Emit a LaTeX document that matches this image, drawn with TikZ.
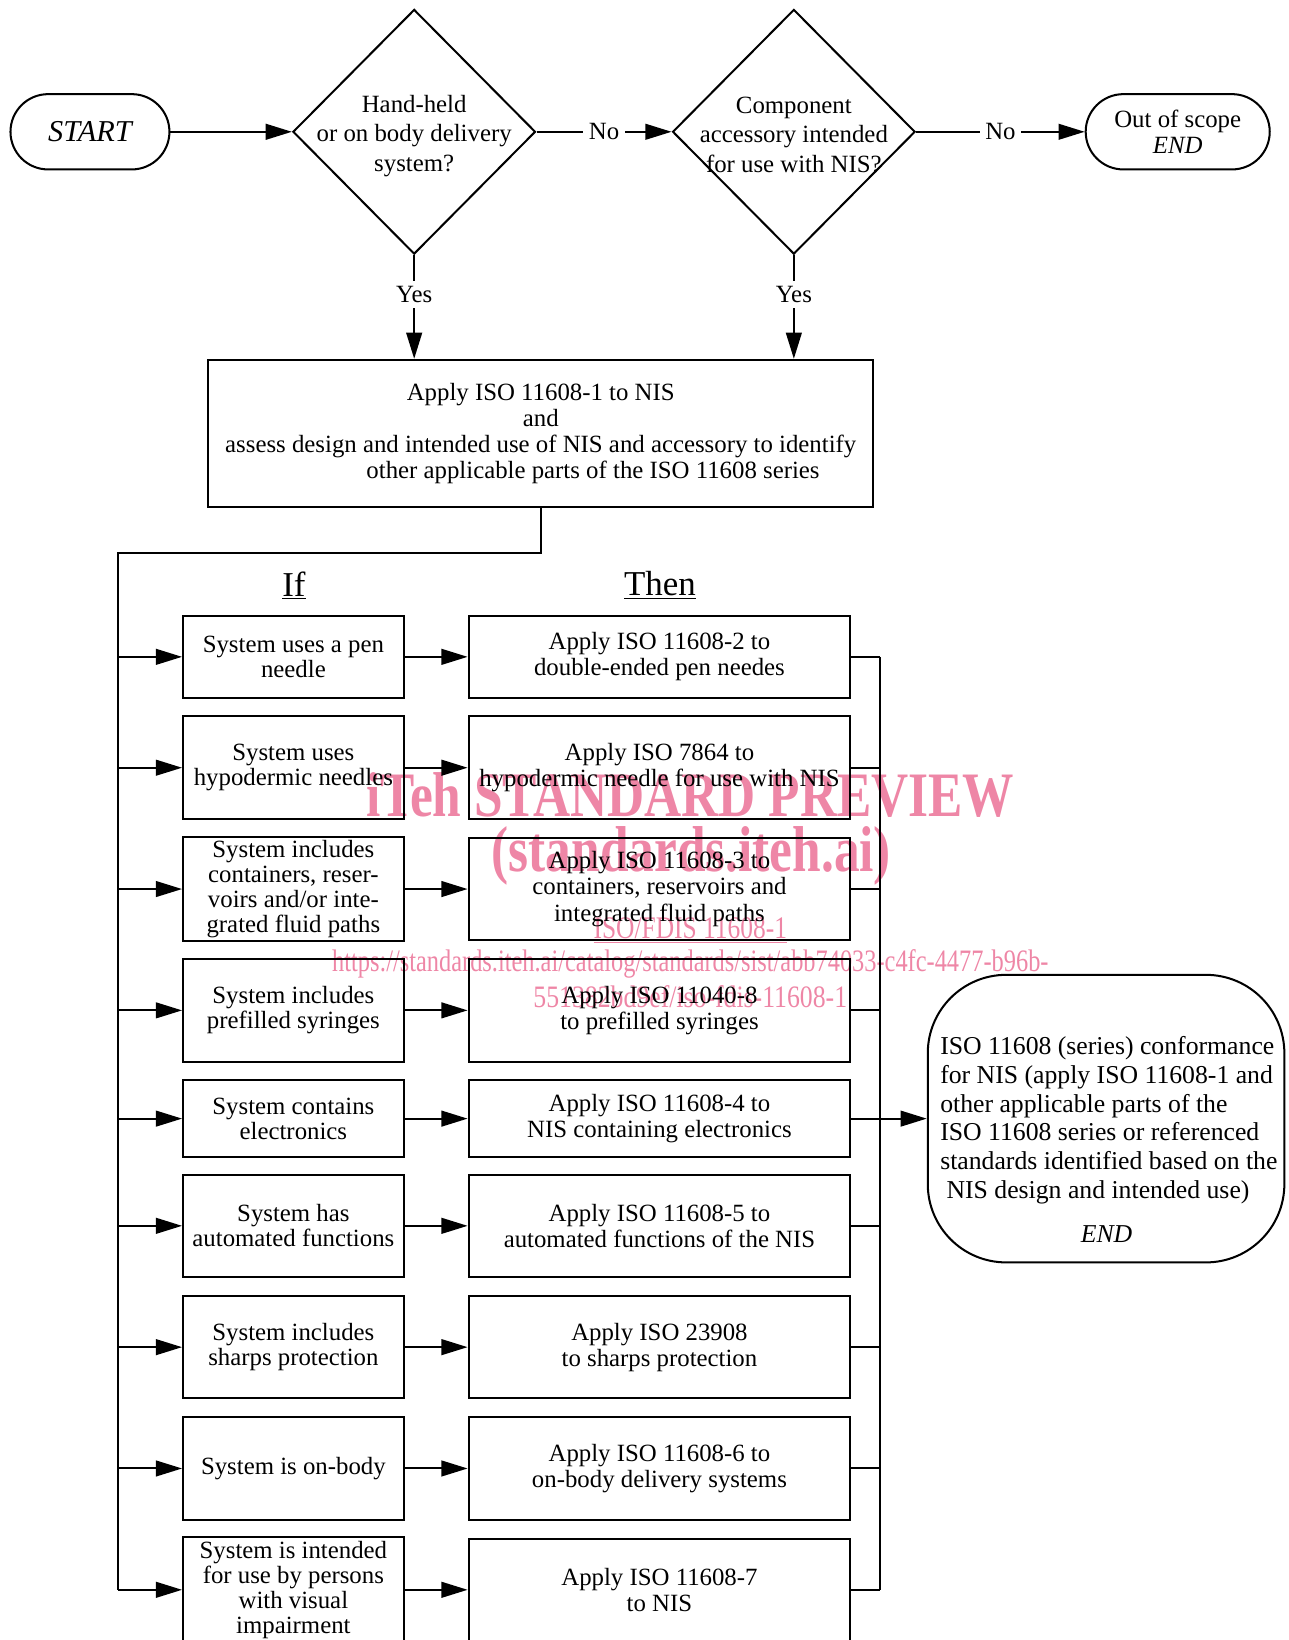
\documentclass[tikz,border=0pt]{standalone}
\usepackage{fontspec}
\setmainfont{Liberation Serif}
\usepackage{graphicx}
\usepackage{tikz}
\usetikzlibrary{shapes.geometric}
\usetikzlibrary{positioning}
\usetikzlibrary{arrows.meta,calc}

\definecolor{wmpink}{RGB}{238,134,166}

\begin{document}
\begin{tikzpicture}[x=0.02cm,y=-0.02cm,line width=1.1pt,
  txt/.style={font=\fontsize{13.5}{14.2}\selectfont,align=center},
  term/.style={txt,draw,rectangle,rounded corners=0.72cm,minimum height=1.44cm,inner sep=0pt},
  decision/.style={draw,diamond,aspect=1,minimum width=4.64cm,minimum height=4.68cm,inner sep=0pt},
  box/.style={txt,draw,rectangle,inner sep=2pt},
  ifbox/.style={box,minimum width=4.22cm,font=\fontsize{13.5}{13.6}\selectfont},
  thenbox/.style={box,minimum width=7.3cm},
  lbl/.style={txt,fill=white,inner sep=3pt},
  arr/.style={-{Triangle[length=0.5cm,width=0.3cm]}},
  wm/.style={text=wmpink,inner sep=0pt}]
\path[use as bounding box,clip] (0,0) rectangle (1232,1568);

% preview stamp
\node[wm] (wm1) at (660,760) {\resizebox{12.4cm}{0.84cm}{\bfseries iTeh STANDARD PREVIEW}};
\node[wm] (wm2) at (661,818) {\resizebox{7.64cm}{0.86cm}{\bfseries (standards.iteh.ai)}};
\node[wm] (wm3) at (660,890) {\resizebox{3.7cm}{0.4cm}{\underline{ISO/FDIS 11608-1}}};
\node[wm] (wm4) at (660,922) {\resizebox{13.7cm}{0.42cm}{https://standards.iteh.ai/catalog/standards/sist/abb74033-c4fc-4477-b96b-}};
\node[wm] (wm5) at (660,953) {\resizebox{6cm}{0.42cm}{551382bd9ef/iso-fdis-11608-1}};

\node[term,minimum width=3.04cm,font=\fontsize{16.5}{18}\selectfont\itshape] (start) at (86,126) {START};
\node[decision] (hand) at (396,126) {};
\node[txt,font=\fontsize{13.5}{15.9}\selectfont,yshift=-0.08cm] (handtxt) at (hand) {Hand-held\\or on body delivery\\system?};
\node[decision] (comp) at (759,126) {};
\node[txt,font=\fontsize{13.5}{15.9}\selectfont,yshift=-0.06cm] (comptxt) at (comp) {Component\\accessory intended\\for use with NIS?};
\node[term,minimum width=3.52cm] (out) at (1126,126) {Out of scope\\\textit{END}};

\node[box,minimum width=12.72cm,minimum height=2.82cm] (apply) at (517,414.5) {Apply ISO 11608-1 to NIS\\and\\assess design and intended use of NIS and accessory to identify\\\hspace*{2cm}other applicable parts of the ISO 11608 series};

\draw[arr] (start.east) -- (hand.west);
\draw[arr] (hand.east) -- node[lbl]{No} (comp.west);
\draw[arr] (comp.east) -- node[lbl]{No} (out.west);
\draw[arr] (hand.south) -- node[lbl,pos=0.38]{Yes} (hand.south |- apply.north);
\draw[arr] (comp.south) -- node[lbl,pos=0.38]{Yes} (comp.south |- apply.north);

\node[font=\fontsize{19}{22}\selectfont] (ifhead) at (281,560) {\underline{If}};
\node[font=\fontsize{19}{22}\selectfont] (thenhead) at (631,560) {\underline{Then}};

\node[ifbox,minimum height=1.56cm] (if1) at (280.5,628) {System uses a pen\\needle};
\node[thenbox,minimum height=1.56cm] (then1) at (630.5,628) {Apply ISO 11608-2 to\\double-ended pen needes};
\node[ifbox,minimum height=1.96cm] (if2) at (280.5,734) {System uses\\hypodermic needles};
\node[thenbox,minimum height=1.96cm] (then2) at (630.5,734) {Apply ISO 7864 to\\hypodermic needle for use with NIS};
\node[ifbox,minimum height=1.96cm] (if3) at (280.5,850) {System includes\\containers, reser-\\voirs and/or inte-\\grated fluid paths};
\node[thenbox,minimum height=1.96cm] (then3) at (630.5,850) {Apply ISO 11608-3 to\\containers, reservoirs and\\integrated fluid paths};
\node[ifbox,minimum height=1.96cm] (if4) at (280.5,966) {System includes\\prefilled syringes};
\node[thenbox,minimum height=1.96cm] (then4) at (630.5,966) {Apply ISO 11040-8\\to prefilled syringes};
\node[ifbox,minimum height=1.46cm] (if5) at (280.5,1069.5) {System contains\\electronics};
\node[thenbox,minimum height=1.46cm] (then5) at (630.5,1069.5) {Apply ISO 11608-4 to\\NIS containing electronics};
\node[ifbox,minimum height=1.96cm] (if6) at (280.5,1172) {System has\\automated functions};
\node[thenbox,minimum height=1.96cm] (then6) at (630.5,1172) {Apply ISO 11608-5 to\\automated functions of the NIS};
\node[ifbox,minimum height=1.96cm] (if7) at (280.5,1288) {System includes\\sharps protection};
\node[thenbox,minimum height=1.96cm] (then7) at (630.5,1288) {Apply ISO 23908\\to sharps protection};
\node[ifbox,minimum height=1.96cm] (if8) at (280.5,1404) {System is on-body};
\node[thenbox,minimum height=1.96cm] (then8) at (630.5,1404) {Apply ISO 11608-6 to\\on-body delivery systems};
\node[ifbox,minimum height=1.96cm] (if9) at (280.5,1520) {System is intended\\for use by persons\\with visual\\impairment};
\node[thenbox,minimum height=1.96cm] (then9) at (630.5,1520) {Apply ISO 11608-7\\to NIS};

\node[draw,rounded corners=1.5cm,minimum width=6.82cm,minimum height=5.5cm] (conf) at (1057.5,1069.5) {};
\node[txt,align=left,anchor=west,inner sep=0pt,font=\fontsize{14}{15.6}\selectfont] (conftxt) at (898,1071) {ISO 11608 (series) conformance\\for NIS (apply ISO 11608-1 and\\other applicable parts of the\\ISO 11608 series or referenced\\standards identified based on the\\\hspace*{0.12cm}NIS design and intended use)};
\node[txt,font=\fontsize{14}{15.6}\selectfont\itshape] (confend) at (1058,1180) {END};

% if/then ladder
\coordinate (split) at (113,529);
\coordinate (join) at (841,628);
\draw (apply.south) |- (split) -- (split |- if9.west);
\draw (then1.east -| join) -- (then9.east -| join);
\foreach \i in {1,...,9} {
  \draw[arr] (split |- if\i.west) -- (if\i.west);
  \draw[arr] (if\i.east) -- (then\i.west);
  \draw (then\i.east) -- (then\i.east -| join);
}
\draw[arr] (then5.east -| join) -- (conf.west);
\end{tikzpicture}
\end{document}
